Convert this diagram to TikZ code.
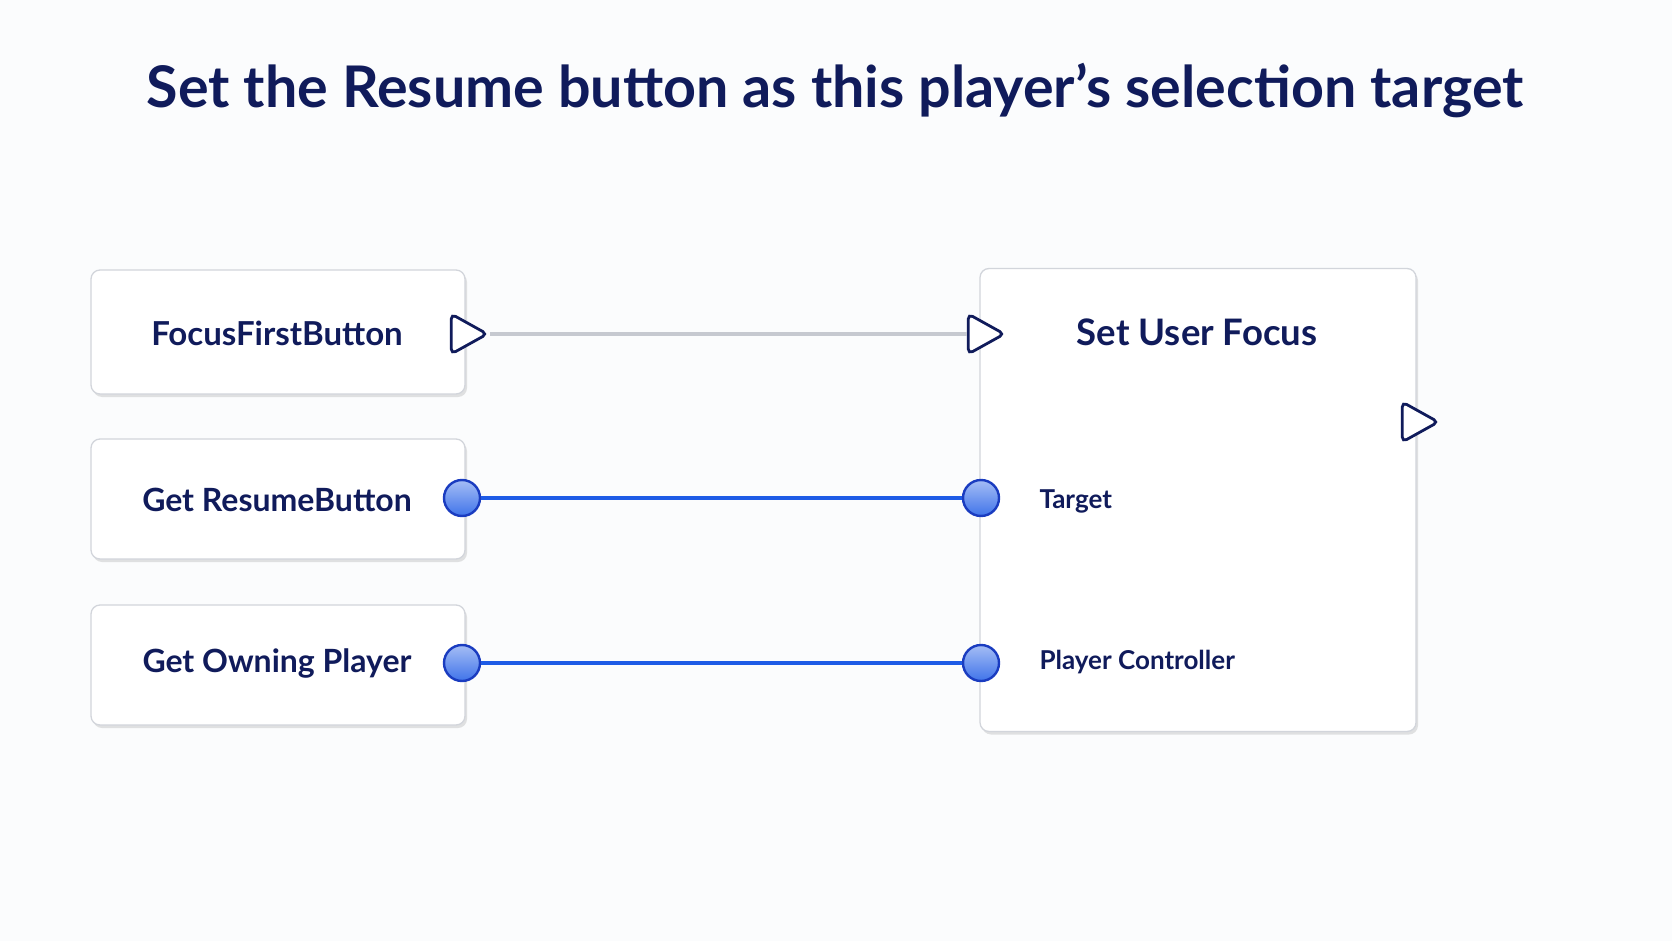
\documentclass[tikz,border=0pt]{standalone}
\usepackage{fontspec}
\setmainfont{Lato}
\usetikzlibrary{shapes.geometric,shadows}

\definecolor{navy}{HTML}{101B5B}
\definecolor{pinblue}{HTML}{1E5BE6}
\definecolor{pinedge}{HTML}{1A3CC0}
\definecolor{boxedge}{HTML}{D2D5DB}
\definecolor{wiregray}{HTML}{C6C9D0}
\definecolor{paper}{HTML}{FBFCFD}

\tikzset{
  card/.style={draw=boxedge, line width=1.3pt, fill=white, rounded corners=9pt,
    drop shadow={opacity=0.22, shadow xshift=2pt, shadow yshift=-3pt}},
  label/.style={font=\bfseries\fontsize{32}{38}\selectfont, text=navy},
  pinlabel/.style={font=\bfseries\fontsize{26}{32}\selectfont, text=navy, anchor=west},
  execpin/.style={isosceles triangle, isosceles triangle apex angle=60,
    isosceles triangle stretches, minimum width=40pt, minimum height=36pt,
    inner sep=0pt, draw=navy, line width=2.8pt, fill=white, rounded corners=5pt},
  datapin/.style={circle, minimum size=36pt, inner sep=0pt, draw=pinedge,
    line width=2.4pt, top color=pinblue!40!white, bottom color=pinblue!85!white},
  execwire/.style={draw=wiregray, line width=3.5pt},
  datawire/.style={draw=pinblue, line width=3.5pt}
}

\begin{document}
\begin{tikzpicture}[x=1pt,y=-1pt] % pixel grid of the reference
    \fill[paper] (0,0) rectangle (1672,941);
    \node (heading) at (835,91) [font=\bfseries\fontsize{57.4}{66}\selectfont, text=navy]
      {Set the Resume button as this player's selection target};

    \node (focus) at (278,332) [card, minimum width=374pt, minimum height=124pt] {};
    \node (resume) at (278,499) [card, minimum width=374pt, minimum height=120pt] {};
    \node (owning) at (278,665) [card, minimum width=374pt, minimum height=120pt] {};
    \node (setfocus) at (1198,500) [card, minimum width=436pt, minimum height=463pt] {};

    \node (focustext) at (277,333) [label, font=\bfseries\fontsize{33}{38}\selectfont] {FocusFirstButton};
    \node (resumetext) at (277,500) [label] {Get ResumeButton};
    \node (owningtext) at (277,663) [label] {Get Owning Player};
    \node (setfocustext) at (1197,332) [label, font=\bfseries\fontsize{36.5}{40}\selectfont] {Set User Focus};
    \node (targettext) at (1036,501) [pinlabel] {Target};
    \node (playertext) at (1036,662) [pinlabel] {Player Controller};

    \node (focusout) at (463,334) [execpin] {};
    \node (setfocusin) at (980,334) [execpin] {};
    \node (setfocusout) at (1414,422) [execpin] {};
    \node (resumepin) at (462,498) [datapin] {};
    \node (targetpin) at (981,498) [datapin] {};
    \node (owningpin) at (462,663) [datapin] {};
    \node (playerpin) at (981,663) [datapin] {};

    \draw[execwire] (focusout.east) -- (setfocusin.west);
    \draw[datawire] (resumepin) -- (targetpin);
    \draw[datawire] (owningpin) -- (playerpin);
  \end{tikzpicture}
\end{document}
